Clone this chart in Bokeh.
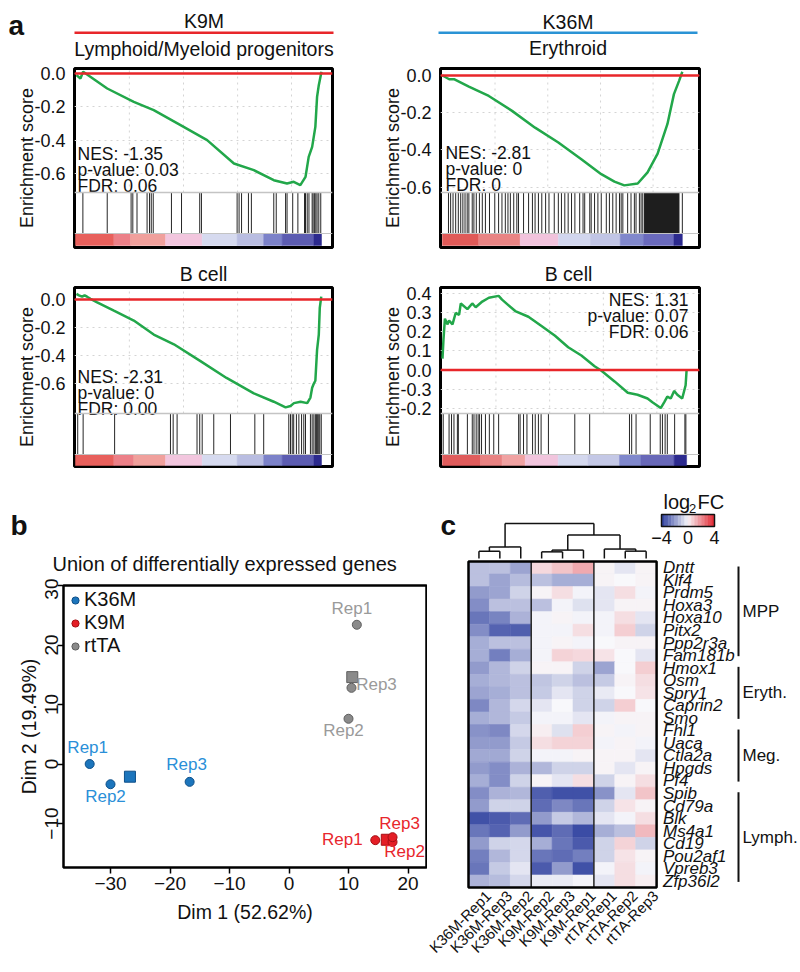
import math
from bokeh.plotting import figure
from bokeh.layouts import column, row
from bokeh.models import (Range1d, FixedTicker, Label, Span, Legend, LegendItem, BoxAnnotation,
                          LinearColorMapper, ColumnDataSource)
from bokeh.core.properties import value
from bokeh.embed import file_html
from bokeh.resources import INLINE

FONT = "Liberation Sans"

# ======================= DATA =======================
# ---- Panel a: GSEA running enrichment score (x = position in ranked list, % of list) ----
k9m_lmp_x = [0.4, 2.0, 3.1, 12.9, 23.7, 31.8, 42.7, 53.5, 64.4, 72.5, 80.6, 86.0, 88.7, 91.4, 93.5, 94.8, 96.2, 97.5, 98.2, 98.9, 100.0]
k9m_lmp_es = [-0.01, -0.03, 0.01, -0.09, -0.17, -0.22, -0.31, -0.40, -0.54, -0.58, -0.64, -0.66, -0.65, -0.67, -0.62, -0.50, -0.44, -0.32, -0.14, -0.07, 0.01]
k9m_lmp_hits = [3.0, 12.9, 22.6, 23.3, 25.0, 29.1, 30.1, 30.8, 31.6, 39.0, 43.1, 50.5, 51.2, 65.7, 66.5, 67.5, 70.3, 71.5, 80.6, 81.6, 85.4, 86.0, 88.3, 90.4, 93.1, 93.5, 94.2, 94.9, 96.2, 96.6, 97.2, 97.7, 98.2, 98.9, 99.7]
k9m_lmp_stats = "NES: -1.35\np-value: 0.03\nFDR: 0.06"

k36m_ery_x = [0.0, 2.8, 4.8, 11.0, 19.3, 29.0, 38.6, 48.3, 57.9, 66.2, 71.7, 75.8, 81.4, 85.5, 89.7, 93.8, 96.5, 98.6, 100.0]
k36m_ery_es = [0.0, -0.02, -0.02, -0.06, -0.11, -0.19, -0.28, -0.36, -0.45, -0.53, -0.57, -0.59, -0.58, -0.52, -0.42, -0.26, -0.10, -0.03, 0.02]
k36m_ery_hits = [2.5, 3.4, 4.4, 5.5, 6.6, 7.6, 8.5, 9.4, 10.3, 11.0, 12.4, 13.1, 14.1, 15.4, 16.6, 17.9, 19.6, 21.8, 23.4, 24.8, 26.2, 27.3, 28.3, 29.7, 31.0, 31.7, 33.8, 35.9, 37.5, 38.6, 40.0, 41.4, 43.0, 44.4, 46.6, 48.3, 49.6, 51.0, 52.4, 53.8, 55.2, 57.2, 58.6, 59.3, 61.4, 62.0, 63.4, 64.8, 66.2, 68.3, 69.6, 71.0, 72.4, 73.8, 74.5, 75.2, 77.2, 78.6, 80.0, 80.7, 82.1, 82.8, 83.5, 100.0]
k36m_ery_dense = (84.2, 98.6)   # block of densely packed hits
k36m_ery_stats = "NES: -2.81\np-value: 0\nFDR: 0"

k9m_b_x = [0.4, 1.4, 2.7, 3.7, 4.7, 6.1, 8.8, 15.6, 23.7, 31.8, 40.0, 50.8, 61.4, 72.5, 80.6, 85.4, 87.4, 88.8, 91.5, 94.2, 95.5, 96.2, 96.9, 97.5, 98.2, 98.9, 99.3, 99.9]
k9m_b_es = [0.04, 0.03, 0.02, 0.03, 0.02, 0.005, -0.02, -0.08, -0.15, -0.25, -0.32, -0.44, -0.56, -0.67, -0.73, -0.77, -0.76, -0.74, -0.73, -0.74, -0.70, -0.63, -0.60, -0.58, -0.36, -0.25, -0.06, 0.02]
k9m_b_hits = [0.9, 3.1, 15.9, 38.6, 39.7, 41.3, 49.4, 50.5, 51.5, 56.2, 63.0, 72.9, 76.5, 86.7, 87.4, 88.1, 88.7, 89.8, 90.8, 91.9, 92.8, 93.5, 95.5, 96.2, 96.9, 97.5, 97.9, 98.2, 98.5, 98.9, 99.3, 99.9]
k9m_b_stats = "NES: -2.31\np-value: 0\nFDR: 0.00"

k36m_b_x = [0, 0.4, 1.0, 2.0, 2.7, 4.1, 5.4, 6.8, 7.5, 10.2, 12.2, 13.6, 16.3, 19.0, 23.0, 24.4, 29.8, 35.2, 40.7, 46.1, 51.5, 56.9, 62.3, 65.0, 70.5, 75.9, 79.9, 84.0, 86.0, 89.4, 90.8, 92.1, 93.5, 94.9, 96.2, 98.2, 99.6, 100]
k36m_b_es = [0.06, 0.16, 0.27, 0.24, 0.26, 0.24, 0.30, 0.29, 0.35, 0.32, 0.35, 0.33, 0.36, 0.38, 0.39, 0.37, 0.31, 0.28, 0.23, 0.18, 0.12, 0.076, 0.02, -0.003, -0.06, -0.12, -0.13, -0.15, -0.17, -0.20, -0.17, -0.14, -0.15, -0.11, -0.13, -0.15, -0.08, 0.0]
k36m_b_hits = [0.3, 2.7, 3.7, 4.7, 6.1, 6.5, 10.2, 12.2, 12.9, 13.8, 14.6, 15.2, 16.0, 17.6, 19.2, 21.0, 23.0, 31.2, 31.8, 33.2, 34.6, 36.9, 38.0, 39.3, 40.4, 43.4, 54.2, 60.3, 76.6, 77.5, 79.3, 85.1, 89.2, 90.1, 91.2, 92.1, 95.1, 99.3, 99.7]
k36m_b_stats = "NES: 1.31\np-value: 0.07\nFDR: 0.06"

gsea_grid_x = [21.9, 43.9, 65.9, 87.8]
es_ticks_neg = [0.0, -0.2, -0.4, -0.6]
es_ticks_neg_text = ["0.0", "-0.2", "-0.4", "-0.6"]
es_ticks_pos = [0.4, 0.3, 0.2, 0.1, 0.0, -0.1, -0.2]
es_ticks_pos_text = ["0.4", "0.3", "0.2", "0.1", "0.0", "-0.3", "-0.2"]

# ranked-list metric colour bar (segment edges along the list, % of list)
cb_edges_lmp = [0, 15.6, 22.4, 36.6, 51.5, 65.7, 76.5, 84.0, 96.9, 100]
cb_edges_ery = [0, 15.1, 32.4, 48.3, 61.7, 74.1, 83.8, 96.5, 100]
cb_edges_k9b = [0, 15.6, 23.7, 36.6, 51.5, 65.7, 76.5, 84.0, 96.9, 100]
cb_edges_k36b = [0, 15.6, 24.4, 33.9, 47.4, 59.6, 72.5, 81.3, 94.9, 100]

# ---- Panel b: PCA ----
pca_reps = ["Rep1", "Rep2", "Rep3"]
k36m_dim1 = [-33.5, -30.0, -16.7]
k36m_dim2 = [0.0, -3.4, -3.0]
k9m_dim1 = [14.5, 17.4, 17.4]
k9m_dim2 = [-12.8, -13.1, -12.3]
rtta_dim1 = [11.4, 10.0, 10.5]
rtta_dim2 = [23.4, 7.6, 12.8]
pca_xticks = [-30, -20, -10, 0, 10, 20]
pca_yticks = [-10, 0, 10, 20, 30]

# ---- Panel c: heatmap of log2 FC ----
hm_samples = ["K36M-Rep1", "K36M-Rep3", "K36M-Rep2", "K9M-Rep2", "K9M-Rep3", "K9M-Rep1",
              "rtTA-Rep1", "rtTA-Rep2", "rtTA-Rep3"]
hm_genes = ["Dntt", "Klf4", "Prdm5", "Hoxa3", "Hoxa10", "Pitx2", "Ppp2r3a", "Fam181b",
            "Hmox1", "Osm", "Spry1", "Caprin2", "Smo",
            "Fhl1", "Uaca", "Ctla2a", "Hpgds", "Pf4",
            "Spib", "Cd79a", "Blk", "Ms4a1", "Cd19", "Pou2af1", "Vpreb3", "Zfp36l2"]
hm_groups = ["MPP", "Eryth.", "Meg.", "Lymph."]
hm_group_sizes = [8, 5, 5, 8]
hm_col_group_sizes = [3, 3, 3]
hm_log2fc = [
    [-1.2, -1.2, -1.8, 0.6, 1.0, 1.5, 0.1, -0.4, 0.1],
    [-1.2, -1.8, -1.3, -1.2, -1.6, -1.6, 0.1, 0.0, 0.1],
    [-2.0, -1.8, -0.8, 0.1, 0.5, -0.1, -0.4, 0.5, -0.1],
    [-2.3, -1.2, -1.2, -1.2, -0.1, -0.5, -0.4, 0.1, 0.1],
    [-2.8, -2.5, -1.5, -0.1, 0.1, -0.1, -0.1, 0.5, -0.4],
    [-2.3, -3.2, -3.3, -0.1, -0.1, 0.5, -0.1, 0.8, -0.8],
    [-1.6, -1.2, -1.2, -0.1, 0.1, -0.1, 0.0, 0.1, 0.1],
    [-1.6, -2.6, -1.6, -0.1, 0.7, 0.6, 0.4, 0.0, -0.4],
    [-2.0, -1.4, -0.8, 0.1, 0.1, -0.8, -1.8, 0.0, 0.8],
    [-1.6, -1.4, -1.2, -1.1, -0.8, -1.2, -1.0, 0.1, 0.5],
    [-1.8, -1.6, -1.2, -1.0, -0.4, -0.8, -0.3, 0.0, 0.4],
    [-2.4, -1.4, -0.7, -0.4, 0.0, -0.8, -0.8, 0.8, 0.0],
    [-1.6, -1.4, -1.0, -0.1, -0.1, -0.4, -0.1, 0.1, 0.1],
    [-2.2, -2.4, -0.7, 0.2, -0.5, 0.8, 0.1, -0.1, 0.1],
    [-2.0, -2.0, -1.0, 0.5, 0.7, 0.7, -0.1, 0.1, -0.1],
    [-1.7, -1.7, -0.8, -0.1, -0.1, 0.1, 0.1, 0.1, -0.4],
    [-2.0, -2.3, -1.5, -1.4, -0.8, -0.8, 0.1, -0.4, 0.1],
    [-1.6, -2.3, -0.8, 0.1, -0.4, 0.5, -0.8, 0.1, 0.5],
    [-2.3, -1.5, -1.4, -3.3, -3.6, -3.6, -2.2, -0.4, 1.0],
    [-2.0, -0.8, -0.8, -3.0, -2.4, -2.8, -0.8, 0.4, 0.1],
    [-3.6, -3.4, -3.0, -2.0, -1.0, -1.4, -0.4, -0.1, 0.5],
    [-2.8, -3.2, -2.0, -3.5, -3.0, -3.7, -1.6, -1.2, 1.2],
    [-2.0, -0.8, -0.7, -1.6, -2.8, -3.4, -0.8, 0.7, -0.8],
    [-2.6, -1.4, -0.7, -2.8, -3.0, -2.6, -0.8, 0.4, 0.1],
    [-2.8, -1.0, -0.4, -3.4, -2.0, -3.6, -0.1, 0.5, -0.1],
    [-1.5, -1.3, -0.7, -0.3, -0.3, -0.1, -0.4, 0.5, 0.2],
]
# column dendrogram: (left node, right node, merge height / root height); leaves 0..8, merges 9..
hm_merges = [(0, 1, 0.21), (9, 2, 0.33), (3, 4, 0.19), (11, 5, 0.24),
             (7, 8, 0.21), (6, 13, 0.27), (12, 14, 0.67), (10, 15, 1.0)]
hm_key_low, hm_key_high = -4, 4
hm_key_ticks = [-4, 0, 4]

# ======================= STYLE =======================
TXT = "#111111"
GREEN = "#22a74a"
ZERO_RED = "#e8262a"
RANK_COLS_9 = ["#e8605c", "#ec8088", "#f0a09c", "#f2c6de", "#d6daef", "#b9bde1", "#7c82c9", "#5c5cb1", "#2c2a8e"]
RANK_COLS_8 = ["#e05a58", "#e98484", "#f1c3dc", "#d2d6ee", "#c1c5e5", "#8188cc", "#6a6abd", "#2c2a8e"]
RANK_COLS_9B = ["#e05c5c", "#e88282", "#f0a2a2", "#f1c5dd", "#d4d8ee", "#c4c8e6", "#8088cc", "#6868b8", "#2c2a8e"]


def lerp(c0, c1, t):
    return "#%02x%02x%02x" % tuple(int(round(a + (b - a) * t)) for a, b in zip(c0, c1))


BLUE, WHITE, RED = (44, 62, 158), (248, 248, 251), (226, 38, 48)
HM_PALETTE = [lerp(BLUE, WHITE, k / 40) for k in range(40)] + [lerp(WHITE, RED, k / 40) for k in range(41)]


def base_fig(fx, fy, fw, fh, frame, xr, yr, **kw):
    fl, ft, frw, frh = frame
    p = figure(width=fw, height=fh, x_range=Range1d(*xr), y_range=Range1d(*yr), title=None,
               output_backend="svg", toolbar_location=None,
               min_border_left=fl - fx, min_border_right=fx + fw - fl - frw,
               min_border_top=ft - fy, min_border_bottom=fy + fh - ft - frh, **kw)
    p.background_fill_color = "white"
    p.border_fill_color = "white"
    return p


def px_fig(fx, fy, fw, fh):
    """Annotation canvas whose frame is the whole figure, in page-pixel units."""
    p = base_fig(fx, fy, fw, fh, (fx, fy, fw, fh), (fx, fx + fw), (fy + fh, fy),
                 x_axis_location=None, y_axis_location=None)
    p.outline_line_color = None
    p.grid.visible = False
    return p


def lab(p, x, y, text, size, align="center", baseline="middle", style="normal", color=TXT):
    p.add_layout(Label(x=x, y=y, text=text, text_font=FONT, text_font_size=size, text_align=align,
                       text_baseline=baseline, text_font_style=style, text_color=color))


def gsea_fig(fx, fy, fw, fh, frame, x0px, x100px, zero_py, k, es_bot_py, cb_px,
             xs, es, hits, ticks, tick_text, cb_edges, cb_cols, stats, stats_px, stats_align,
             ylab_py, dense=None):
    fl, ft, frw, frh = frame
    sx = 100.0 / (x100px - x0px)
    ex = lambda px: (px - x0px) * sx
    ey = lambda py: (zero_py - py) * k
    p = base_fig(fx, fy, fw, fh, frame, (ex(fl), ex(fl + frw)), (ey(ft + frh), ey(ft)),
                 x_axis_location=None)
    es_hi = ey(ft)
    es_lo = ey(es_bot_py)
    hit_lo = ey(es_bot_py + 41)
    cb_lo = ey(es_bot_py + 41 + cb_px)
    p.outline_line_color = "black"
    p.outline_line_width = 3
    p.xgrid.visible = False
    p.ygrid.ticker = FixedTicker(ticks=ticks)
    p.ygrid.grid_line_color = "#d4d4d4"
    p.ygrid.grid_line_dash = "dotted"
    ax = p.yaxis[0]
    ax.ticker = FixedTicker(ticks=ticks)
    ax.major_label_overrides = dict(zip(ticks, tick_text))
    ax.axis_line_color = None
    ax.major_tick_line_color = None
    ax.minor_tick_line_color = None
    ax.major_label_text_font = FONT
    ax.major_label_text_font_size = "18px"
    ax.major_label_text_color = TXT
    ax.major_label_standoff = 3
    ax.axis_label = "Enrichment score"
    ax.axis_label_text_font = FONT
    ax.axis_label_text_font_size = "18px"
    ax.axis_label_text_font_style = "normal"
    ax.axis_label_text_color = TXT
    ax.axis_label_standoff = -6
    c = ey(ylab_py)
    ax.bounds = (2 * c - es_hi, es_hi)
    n = len(gsea_grid_x)
    p.segment(x0=gsea_grid_x, y0=[es_lo] * n, x1=gsea_grid_x, y1=[es_hi] * n,
              line_color="#d4d4d4", line_dash="dotted", line_width=1)
    p.add_layout(Span(location=0, dimension="width", line_color=ZERO_RED, line_width=2.5))
    p.add_layout(Span(location=es_lo, dimension="width", line_color="#c4c4c4", line_width=1.5))
    p.add_layout(Span(location=hit_lo, dimension="width", line_color="#c4c4c4", line_width=1))
    p.line(xs, es, line_color=GREEN, line_width=2.5)
    m = len(hits)
    p.segment(x0=hits, y0=[hit_lo] * m, x1=hits, y1=[es_lo] * m, line_color="#262626", line_width=1)
    if dense:
        p.quad(left=[dense[0]], right=[dense[1]], bottom=[hit_lo], top=[es_lo],
               fill_color="#1e1e1e", line_color="#1e1e1e")
    p.quad(left=cb_edges[:-1], right=cb_edges[1:], bottom=cb_lo, top=hit_lo,
           fill_color=cb_cols, line_color=cb_cols, line_width=0.5)
    p.text(x=[ex(stats_px[0])], y=[ey(stats_px[1])], text=[stats], text_font=value(FONT),
           text_font_size="17.5px", text_align=stats_align, text_baseline="top",
           text_line_height=0.8, text_color=TXT)
    return p


# ---- row 1: panel a headers ----
hdrL = px_fig(0, 0, 380, 62)
hdrL.add_layout(BoxAnnotation(left=74, right=333, top=31, bottom=33.5, fill_color="#e8262a",
                              fill_alpha=1, line_color=None))
lab(hdrL, 203.5, 20, "K9M", "19.5px")
lab(hdrL, 203.5, 48, "Lymphoid/Myeloid progenitors", "19.5px")
lab(hdrL, 8, 25, "a", "28px", align="left", baseline="alphabetic", style="bold")
hdrR = px_fig(380, 0, 418, 62)
hdrR.add_layout(BoxAnnotation(left=438, right=697, top=31, bottom=33.5, fill_color="#2a93d5",
                              fill_alpha=1, line_color=None))
lab(hdrR, 567.5, 21, "K36M", "19.5px")
lab(hdrR, 567.5, 47, "Erythroid", "19.5px")

# ---- row 2: top GSEA ----
gTL = gsea_fig(0, 62, 380, 194, (74, 68, 258, 179), 75, 321, 73, 0.006, 192, 12,
               k9m_lmp_x, k9m_lmp_es, k9m_lmp_hits, es_ticks_neg, es_ticks_neg_text,
               cb_edges_lmp, RANK_COLS_9, k9m_lmp_stats, (77, 143), "left", 145)
gTR = gsea_fig(380, 62, 418, 194, (438, 68, 261, 179), 440, 681.7, 75, 0.00537, 192, 12,
               k36m_ery_x, k36m_ery_es, k36m_ery_hits, es_ticks_neg, es_ticks_neg_text,
               cb_edges_ery, RANK_COLS_8, k36m_ery_stats, (443, 142), "left", 145,
               dense=k36m_ery_dense)

# ---- row 3: bottom GSEA titles ----
hdrBL = px_fig(0, 256, 380, 28)
lab(hdrBL, 203, 273, "B cell", "19.5px")
hdrBR = px_fig(380, 256, 418, 28)
lab(hdrBR, 568, 273, "B cell", "19.5px")

# ---- row 4: bottom GSEA ----
gBL = gsea_fig(0, 284, 380, 191, (74, 287, 258, 179), 75, 321, 299, 0.00714, 413, 11,
               k9m_b_x, k9m_b_es, k9m_b_hits, es_ticks_neg, es_ticks_neg_text,
               cb_edges_k9b, RANK_COLS_9, k9m_b_stats, (77, 366), "left", 368)
gBR = gsea_fig(380, 284, 418, 191, (438, 287, 261, 179), 440, 686, 369.5, 0.00526, 413, 11,
               k36m_b_x, k36m_b_es, k36m_b_hits, es_ticks_pos, es_ticks_pos_text,
               cb_edges_k36b, RANK_COLS_9B, k36m_b_stats, (688, 289), "right", 368)

# ---- panel b: PCA ----
PCA_W = 427
pcaHead = px_fig(0, 475, PCA_W, 103)
lab(pcaHead, 10, 525, "b", "28px", align="left", baseline="alphabetic", style="bold")
lab(pcaHead, 52, 563, "Union of differentially expressed genes", "20px", align="left")

PCA_PXU = 5.95   # pixels per PCA unit
pca = base_fig(0, 578, PCA_W, 390, (63, 585, 363, 282),
               (-37.9, -37.9 + 363 / PCA_PXU), (30.0 - 282 / PCA_PXU, 30.0))
pca.grid.visible = False
pca.outline_line_color = "black"
pca.outline_line_width = 2.5
for ax, ticks in ((pca.xaxis[0], pca_xticks), (pca.yaxis[0], pca_yticks)):
    ax.ticker = FixedTicker(ticks=ticks)
    ax.major_label_overrides = {t: ("\u2212%d" % -t if t < 0 else "%d" % t) for t in ticks}
    ax.axis_line_color = None
    ax.major_tick_line_color = "black"
    ax.major_tick_line_width = 1.5
    ax.major_tick_out = 6
    ax.major_tick_in = 0
    ax.minor_tick_line_color = None
    ax.major_label_text_font = FONT
    ax.major_label_text_font_size = "19px"
    ax.major_label_text_color = TXT
    ax.axis_label_text_font = FONT
    ax.axis_label_text_font_size = "19.5px"
    ax.axis_label_text_font_style = "normal"
    ax.axis_label_text_color = TXT
pca.xaxis[0].axis_label = "Dim 1 (52.62%)"
pca.yaxis[0].axis_label = "Dim 2 (19.49%)"
pca.xaxis[0].major_label_standoff = 3
pca.xaxis[0].axis_label_standoff = 8
pca.yaxis[0].major_label_orientation = "vertical"
pca.yaxis[0].major_label_standoff = 0
pca.yaxis[0].axis_label_standoff = 2

pca_style = {
    "K36M": dict(fill="#1c75bc", edge="#0e4f88", text="#2a8fd8",
                 off=[(-2, -17), (-5, 12), (-3, -17)]),
    "K9M": dict(fill="#e41e26", edge="#a50f15", text="#e8262c",
                off=[(-33, -1), (12, 10), (7, -14)]),
    "rtTA": dict(fill="#8a8a8a", edge="#5e5e5e", text="#9a9a9a",
                 off=[(-5, -16), (-5, 12), (25, -3)]),
}
pca_data = {"K36M": (k36m_dim1, k36m_dim2), "K9M": (k9m_dim1, k9m_dim2), "rtTA": (rtta_dim1, rtta_dim2)}
legend_items = []
for g in ["K36M", "K9M", "rtTA"]:
    d1, d2 = pca_data[g]
    st = pca_style[g]
    pca.scatter([sum(d1) / len(d1)], [sum(d2) / len(d2)], marker="square", size=11,
                fill_color=st["fill"], line_color=st["edge"], line_width=1)
    r = pca.scatter(d1, d2, marker="circle", size=9, fill_color=st["fill"], line_color=st["edge"],
                    line_width=1)
    pca.text(x=d1, y=d2, text=pca_reps, x_offset=[o[0] for o in st["off"]],
             y_offset=[o[1] for o in st["off"]], text_font=value(FONT), text_font_size="17px",
             text_color=st["text"], text_align="center", text_baseline="middle")
    legend_items.append(LegendItem(label=g, renderers=[r]))
leg = Legend(items=legend_items, location="top_left", border_line_color=None,
             background_fill_alpha=0, label_text_font=FONT, label_text_font_size="20px",
             label_text_color=TXT, glyph_width=18, glyph_height=18, label_standoff=0,
             spacing=-4, padding=0, margin=3)
pca.add_layout(leg)

# ---- panel c: heatmap ----
n_rows, n_cols = len(hm_genes), len(hm_samples)
CW, RH = 20.9, 12.54
HM_X = PCA_W
hx = lambda px: (px - 468) / CW
hy = lambda py: n_rows - (py - 561) / RH
hm = base_fig(HM_X, 475, 798 - HM_X, 493, (HM_X, 475, 798 - HM_X, 493), (hx(HM_X), hx(798)),
              (hy(968), hy(475)), x_axis_location=None, y_axis_location=None)
hm.grid.visible = False
hm.outline_line_color = None
mapper = LinearColorMapper(palette=HM_PALETTE, low=hm_key_low, high=hm_key_high)
cx, cy, cv = [], [], []
for i in range(n_rows):
    for j in range(n_cols):
        cx.append(j + 0.5)
        cy.append(n_rows - i - 0.5)
        cv.append(hm_log2fc[i][j])
src = ColumnDataSource(dict(x=cx, y=cy, v=cv))
hm.rect("x", "y", 1, 1, source=src, fill_color={"field": "v", "transform": mapper},
        line_color={"field": "v", "transform": mapper}, line_width=0.6)
seps = []
acc = 0
for s in hm_col_group_sizes[:-1]:
    acc += s
    seps.append(acc)
hm.segment(x0=seps, y0=[0] * len(seps), x1=seps, y1=[n_rows] * len(seps), line_color="#222222", line_width=1.5)
hm.quad(left=[0], right=[n_cols], bottom=[0], top=[n_rows], fill_color=None, line_color="black", line_width=2.5)
hm.text(x=[hx(662.5)] * n_rows, y=[n_rows - i - 0.5 for i in range(n_rows)], text=hm_genes,
        text_font=value(FONT), text_font_size="17px", text_font_style="italic", text_align="left",
        text_baseline="middle", text_color=TXT)
bx, by0, by1, gy = [], [], [], []
start = 0
for size in hm_group_sizes:
    top = n_rows - start - 0.4
    bot = n_rows - (start + size) + 0.45
    bx.append(hx(738)); by0.append(bot); by1.append(top); gy.append((top + bot) / 2)
    start += size
hm.segment(x0=bx, y0=by0, x1=bx, y1=by1, line_color=TXT, line_width=2)
hm.text(x=[hx(742)] * len(hm_groups), y=gy, text=hm_groups, text_font=value(FONT),
        text_font_size="17px", text_align="left", text_baseline="middle", text_color=TXT)
hm.text(x=[j + 0.5 + 0.45 for j in range(n_cols)], y=[-0.45] * n_cols, text=hm_samples,
        angle=math.pi / 4, text_font=value(FONT), text_font_size="15px", text_align="right",
        text_baseline="middle", text_color=TXT)
d_base, d_top = hy(558), hy(523)
pos = {j: (j + 0.5, 0.0) for j in range(n_cols)}
dx0, dy0, dx1, dy1 = [], [], [], []
for kk, (a, b, h) in enumerate(hm_merges):
    (xa, ha), (xb, hb) = pos[a], pos[b]
    for xx, hh in ((xa, ha), (xb, hb)):
        dx0.append(xx); dx1.append(xx)
        dy0.append(d_base + hh * (d_top - d_base)); dy1.append(d_base + h * (d_top - d_base))
    dx0.append(xa); dx1.append(xb)
    dy0.append(d_base + h * (d_top - d_base)); dy1.append(d_base + h * (d_top - d_base))
    pos[n_cols + kk] = ((xa + xb) / 2, h)
hm.segment(x0=dx0, y0=dy0, x1=dx1, y1=dy1, line_color=TXT, line_width=1.5)
k_l, k_r, k_b, k_t = hx(661), hx(714), hy(526), hy(514)
nsteps = 16
step = (hm_key_high - hm_key_low) / nsteps
kv = [hm_key_low + step * (s + 0.5) for s in range(nsteps)]
kx = lambda v: k_l + (v - hm_key_low) / (hm_key_high - hm_key_low) * (k_r - k_l)
key_src = ColumnDataSource(dict(x=[kx(v) for v in kv], v=kv))
hm.rect("x", (k_b + k_t) / 2, (k_r - k_l) / nsteps, k_t - k_b, source=key_src,
        fill_color={"field": "v", "transform": mapper}, line_color={"field": "v", "transform": mapper},
        line_width=0.5)
hm.quad(left=[k_l], right=[k_r], bottom=[k_b], top=[k_t], fill_color=None, line_color=TXT, line_width=1.5)
hm.text(x=[kx(t) for t in hm_key_ticks], y=[hy(537)] * len(hm_key_ticks),
        text=[("\u2212%d" % -t if t < 0 else "%d" % t) for t in hm_key_ticks], text_font=value(FONT),
        text_font_size="18px", text_align="center", text_baseline="middle", text_color=TXT)
hm.text(x=[hx(663)], y=[hy(501.5)], text=["log"], text_font=value(FONT), text_font_size="20px",
        text_align="left", text_baseline="middle", text_color=TXT)
hm.text(x=[hx(688.5)], y=[hy(508)], text=["2"], text_font=value(FONT), text_font_size="13px",
        text_align="left", text_baseline="middle", text_color=TXT)
hm.text(x=[hx(697)], y=[hy(501.5)], text=["FC"], text_font=value(FONT), text_font_size="20px",
        text_align="left", text_baseline="middle", text_color=TXT)
hm.text(x=[hx(440)], y=[hy(525)], text=["c"], text_font=value(FONT), text_font_size="28px",
        text_font_style="bold", text_align="left", text_baseline="alphabetic", text_color=TXT)

W = lambda *figs: column(*figs)
layout = column(
    row(W(hdrL), W(hdrR)),
    row(W(gTL), W(gTR)),
    row(W(hdrBL), W(hdrBR)),
    row(W(gBL), W(gBR)),
    row(column(W(pcaHead), W(pca)), W(hm)),
)
open("out.html", "w").write(file_html(layout, INLINE))
